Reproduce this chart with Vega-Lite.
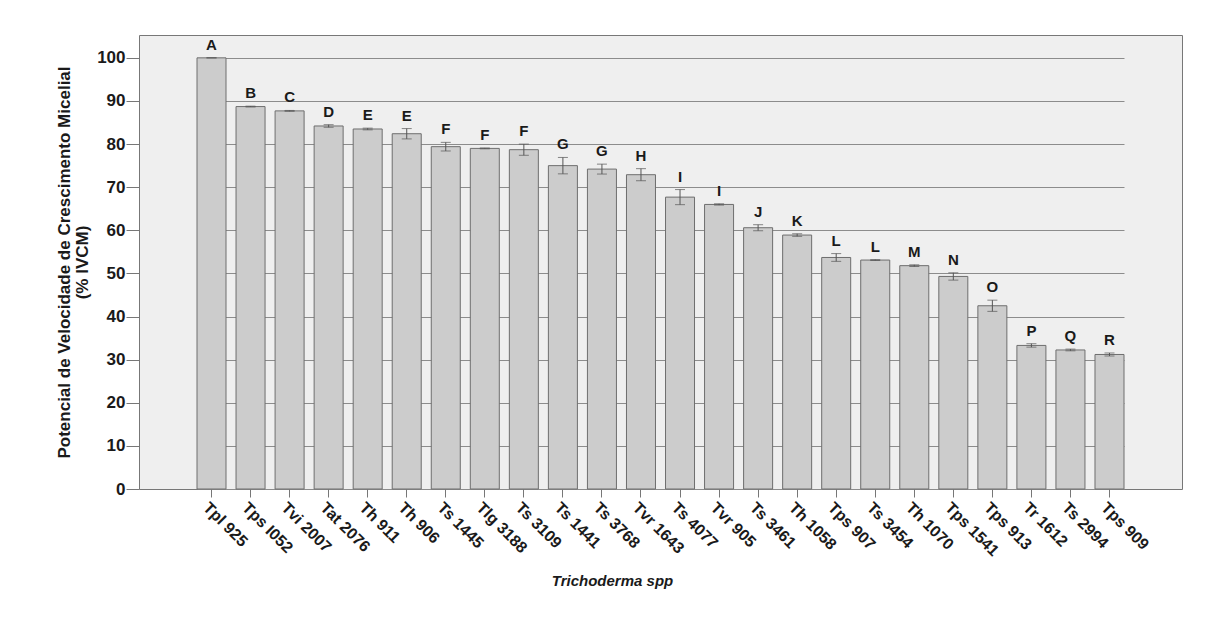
{
  "$schema": "https://vega.github.io/schema/vega-lite/v6.json",
  "width": 1043,
  "height": 454,
  "autosize": {"type": "none"},
  "padding": {"left": 139, "top": 35, "right": 40, "bottom": 137},
  "background": "white",
  "config": {
    "font": "Liberation Sans",
    "view": {"fill": "#efefef", "stroke": "#777777", "strokeWidth": 1}
  },
  "data": {
    "values": [
      {"strain": "Tpl 925", "mean": 100, "lo": 100, "hi": 100, "letter": "A"},
      {"strain": "Tps I052", "mean": 88.7, "lo": 88.6, "hi": 88.8, "letter": "B"},
      {"strain": "Tvi 2007", "mean": 87.7, "lo": 87.6, "hi": 87.8, "letter": "C"},
      {"strain": "Tat 2076", "mean": 84.2, "lo": 83.9, "hi": 84.5, "letter": "D"},
      {"strain": "Th 911", "mean": 83.5, "lo": 83.3, "hi": 83.7, "letter": "E"},
      {"strain": "Th 906", "mean": 82.4, "lo": 81.2, "hi": 83.6, "letter": "E"},
      {"strain": "Ts 1445", "mean": 79.4, "lo": 78.4, "hi": 80.4, "letter": "F"},
      {"strain": "Tlg 3188", "mean": 79.0, "lo": 78.9, "hi": 79.1, "letter": "F"},
      {"strain": "Ts 3109", "mean": 78.7, "lo": 77.4, "hi": 80.0, "letter": "F"},
      {"strain": "Ts 1441", "mean": 75.0, "lo": 73.1, "hi": 76.9, "letter": "G"},
      {"strain": "Ts 3768", "mean": 74.2, "lo": 73.05, "hi": 75.35, "letter": "G"},
      {"strain": "Tvr 1643", "mean": 72.9, "lo": 71.5, "hi": 74.3, "letter": "H"},
      {"strain": "Ts 4077", "mean": 67.7, "lo": 65.95, "hi": 69.45, "letter": "I"},
      {"strain": "Tvr 905", "mean": 66.0, "lo": 65.85, "hi": 66.15, "letter": "I"},
      {"strain": "Ts 3461", "mean": 60.6, "lo": 59.9, "hi": 61.3, "letter": "J"},
      {"strain": "Th 1058", "mean": 58.9, "lo": 58.6, "hi": 59.2, "letter": "K"},
      {"strain": "Tps 907", "mean": 53.7, "lo": 52.8, "hi": 54.6, "letter": "L"},
      {"strain": "Ts 3454", "mean": 53.1, "lo": 53.0, "hi": 53.2, "letter": "L"},
      {"strain": "Th 1070", "mean": 51.8, "lo": 51.6, "hi": 52.0, "letter": "M"},
      {"strain": "Tps 1541", "mean": 49.3, "lo": 48.45, "hi": 50.15, "letter": "N"},
      {"strain": "Tps 913", "mean": 42.5, "lo": 41.2, "hi": 43.8, "letter": "O"},
      {"strain": "Tr 1612", "mean": 33.3, "lo": 32.9, "hi": 33.7, "letter": "P"},
      {"strain": "Ts 2994", "mean": 32.25, "lo": 32.05, "hi": 32.45, "letter": "Q"},
      {"strain": "Tps 909", "mean": 31.2, "lo": 30.85, "hi": 31.55, "letter": "R"}
    ]
  },
  "encoding": {
    "x": {
      "field": "strain",
      "type": "nominal",
      "sort": null,
      "scale": {"range": [58, 985], "paddingInner": 0.257, "paddingOuter": 0},
      "axis": {
        "domain": false,
        "tickSize": 8,
        "tickColor": "#777777",
        "labelAngle": 45,
        "labelAlign": "left",
        "labelBaseline": "top",
        "labelFontSize": 16,
        "labelFontWeight": "bold",
        "labelColor": "#1a1a1a",
        "labelPadding": 2,
        "labelOverlap": false,
        "labelLimit": 300,
        "title": "Trichoderma spp",
        "titleFontStyle": "italic",
        "titleFontWeight": "bold",
        "titleFontSize": 15,
        "titleColor": "#1a1a1a",
        "titleX": 473,
        "titleY": 96,
        "titleBaseline": "alphabetic"
      }
    }
  },
  "layer": [
    {
      "mark": {"type": "bar", "fill": "#cccccc", "stroke": "#6e6e6e", "strokeWidth": 1},
      "encoding": {
        "y": {
          "field": "mean",
          "type": "quantitative",
          "scale": {"domain": [0, 105.3], "nice": false},
          "axis": {
            "values": [0, 10, 20, 30, 40, 50, 60, 70, 80, 90, 100],
            "domain": false,
            "grid": true,
            "gridColor": "#8c8c8c",
            "gridOpacity": 1,
            "tickSize": 13,
            "tickColor": "#777777",
            "labelFontSize": 17,
            "labelFontWeight": "bold",
            "labelColor": "#1a1a1a",
            "labelPadding": 1,
            "title": ["Potencial de Velocidade de Crescimento Micelial", "(% IVCM)"],
            "titleFontSize": 17,
            "titleFontWeight": "bold",
            "titleColor": "#1a1a1a",
            "titleLineHeight": 18,
            "titlePadding": 5
          }
        }
      }
    },
    {
      "mark": {"type": "rule", "color": "#555555", "strokeWidth": 1},
      "encoding": {
        "y": {"field": "lo", "type": "quantitative"},
        "y2": {"field": "hi"}
      }
    },
    {
      "mark": {"type": "tick", "color": "#555555", "size": 10, "thickness": 1},
      "encoding": {"y": {"field": "lo", "type": "quantitative"}}
    },
    {
      "mark": {"type": "tick", "color": "#555555", "size": 10, "thickness": 1},
      "encoding": {"y": {"field": "hi", "type": "quantitative"}}
    },
    {
      "mark": {"type": "text", "dy": -5, "baseline": "bottom", "fontWeight": "bold", "fontSize": 15, "color": "#1a1a1a"},
      "encoding": {
        "y": {"field": "hi", "type": "quantitative"},
        "text": {"field": "letter"}
      }
    }
  ]
}
